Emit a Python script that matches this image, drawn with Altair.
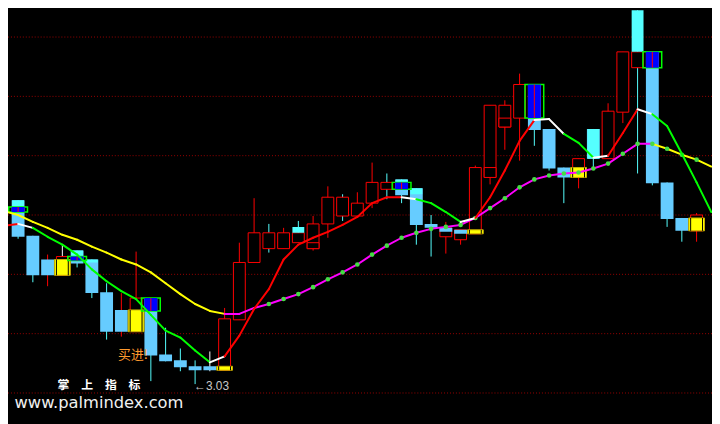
import altair as alt
import pandas as pd

# ---------------- data ----------------
idx = list(range(47))
open_ = [3.96, 3.78, 3.66, 3.58, 3.705, 3.66, 3.495, 3.405, 3.295, 3.465,
         3.18, 3.15, 3.12, 3.12, 3.10, 3.355, 3.645, 3.715, 3.715, 3.745,
         3.715, 3.84, 3.88, 3.88, 3.945, 4.015, 4.065, 4.02, 3.84, 3.775,
         3.76, 3.79, 4.075, 4.33, 4.375, 4.545, 4.32, 4.125, 4.075, 4.32,
         4.17, 4.405, 4.63, 4.71, 4.05, 3.87, 3.805]
close = [3.775, 3.58, 3.58, 3.675, 3.64, 3.49, 3.295, 3.295, 3.465, 3.175,
         3.145, 3.115, 3.10, 3.10, 3.36, 3.645, 3.795, 3.795, 3.795, 3.795,
         3.84, 3.975, 3.975, 3.945, 4.05, 4.05, 3.985, 3.835, 3.82, 3.82,
         3.81, 4.125, 4.44, 4.44, 4.545, 4.315, 4.12, 4.075, 4.17, 4.17,
         4.41, 4.71, 4.71, 4.045, 3.865, 3.805, 3.885]
high = [3.96, 3.78, 3.685, 3.735, 3.705, 3.66, 3.54, 3.49, 3.70, 3.465,
        3.315, 3.21, 3.15, 3.195, 3.415, 3.745, 3.97, 3.84, 3.82, 3.855,
        3.88, 4.03, 3.99, 4.00, 4.15, 4.095, 4.065, 4.02, 3.885, 3.85,
        3.81, 4.135, 4.44, 4.465, 4.60, 4.545, 4.32, 4.125, 4.17, 4.32,
        4.45, 4.71, 4.935, 4.71, 4.05, 3.87, 3.895]
low = [3.765, 3.545, 3.525, 3.58, 3.62, 3.465, 3.255, 3.27, 3.295, 3.045,
       3.145, 3.095, 3.03, 3.095, 3.10, 3.355, 3.645, 3.695, 3.715, 3.745,
       3.705, 3.77, 3.855, 3.88, 3.92, 3.965, 3.945, 3.735, 3.675, 3.69,
       3.735, 3.79, 4.04, 4.215, 4.16, 4.235, 4.11, 3.945, 4.02, 4.125,
       4.17, 4.35, 4.095, 4.035, 3.825, 3.75, 3.75]
wick_kind = ["c", "c", "r", "w", "c", "c", "c", "r", "r", "c",
             "c", "c", "c", "w", "r", "r", "r", "c", "r", "c",
             "r", "r", "c", "r", "r", "c", "c", "c", "c", "r",
             "r", "r", "r", "r", "r", "c", "c", "c", "r", "c",
             "r", "r", "c", "c", "c", "c", "r"]

cyan_idx = [0, 4, 5, 19, 26, 27, 39, 42]
cyan_top = [3.96, 3.705, 3.66, 3.825, 4.065, 4.02, 4.32, 4.935]
cyan_bot = [3.925, 3.675, 3.645, 3.795, 4.05, 3.99, 4.17, 4.71]

blue_idx = [0, 4, 9, 26, 35, 43]
blue_top = [3.925, 3.675, 3.465, 4.05, 4.545, 4.71]
blue_bot = [3.90, 3.655, 3.40, 4.015, 4.375, 4.63]

lblue_idx = [29, 30]
lblue_top = [3.82, 3.81]
lblue_bot = [3.80, 3.79]

yellow_idx = [3, 8, 14, 31, 38, 46]
yellow_top = [3.66, 3.405, 3.12, 3.81, 4.125, 3.87]
yellow_bot = [3.58, 3.295, 3.10, 3.79, 4.075, 3.805]

sub_idx = [20, 32, 33]
sub_top = [3.745, 4.125, 4.375]
sub_bot = [3.715, 4.075, 4.33]

line_idx = list(range(-1, 48))
fast = [3.83, 3.84, 3.82, 3.775, 3.735, 3.685, 3.61, 3.55, 3.50, 3.46, 3.38,
        3.30, 3.265, 3.20, 3.14, 3.17, 3.275, 3.41, 3.51, 3.66, 3.735,
        3.77, 3.80, 3.835, 3.875, 3.945, 3.975, 3.975, 3.965, 3.945, 3.90,
        3.85, 3.87, 3.975, 4.11, 4.26, 4.365, 4.37, 4.295, 4.25, 4.175,
        4.185, 4.30, 4.42, 4.395, 4.335, 4.195, 4.05, 3.90]
fast_kind = (["up", "flat"] + ["down"] * 12 + ["flat"] + ["up"] * 12 + ["flat"]
             + ["down"] * 3 + ["flat"] + ["up"] * 4 + ["flat"] * 2 + ["down"] * 2
             + ["flat"] + ["up"] * 2 + ["flat"] + ["down"] * 4)
slow = [3.905, 3.885, 3.85, 3.82, 3.785, 3.76, 3.725, 3.695, 3.66, 3.635, 3.595,
        3.54, 3.485, 3.435, 3.40, 3.385, 3.385, 3.415, 3.435, 3.46, 3.485,
        3.52, 3.56, 3.595, 3.635, 3.685, 3.73, 3.77, 3.795, 3.815, 3.825,
        3.835, 3.87, 3.92, 3.97, 4.025, 4.065, 4.085, 4.095, 4.10, 4.12,
        4.145, 4.195, 4.245, 4.245, 4.22, 4.19, 4.165, 4.13]
slow_kind = ["fall"] * 15 + ["rise"] * 29 + ["fall"] * 4
dot_idx = list(range(17, 47))

grid_levels = [4.785, 4.485, 4.185, 3.885, 3.585, 3.285, 2.985]

# ---------------- styles ----------------
WICK_COL = {"r": "#FF0000", "c": "#55FFFF", "w": "#FFFFFF"}
FAST_COL = {"up": "#FF0000", "flat": "#FFFFFF", "down": "#00FF00"}
SLOW_COL = {"fall": "#FFFF00", "rise": "#FF00FF"}

xs = alt.Scale(domain=[-0.35, 46.71], nice=False, zero=False)
ys = alt.Scale(domain=[2.84, 4.92], nice=False, zero=False)


def X(f="i"):
    return alt.X(f"{f}:Q", scale=xs, axis=None)


def Y(f):
    return alt.Y(f"{f}:Q", scale=ys, axis=None)


cdf = pd.DataFrame({"i": idx, "o": open_, "c": close, "h": high, "l": low,
                    "wc": [WICK_COL[k] for k in wick_kind]})
cdf["up"] = cdf["c"] >= cdf["o"]


def boxes(ix, top, bot):
    return pd.DataFrame({"i": ix, "t": top, "b": bot})


fast_seg = pd.DataFrame({
    "i": line_idx[:-1], "i2": line_idx[1:], "v": fast[:-1], "v2": fast[1:],
    "col": [FAST_COL[k] for k in fast_kind]})
slow_seg = pd.DataFrame({
    "i": line_idx[:-1], "i2": line_idx[1:], "v": slow[:-1], "v2": slow[1:],
    "col": [SLOW_COL[k] for k in slow_kind]})
dots = pd.DataFrame({"i": dot_idx, "v": [slow[line_idx.index(k)] for k in dot_idx]})

# ---------------- layers ----------------
grid = alt.Chart(pd.DataFrame({"p": grid_levels})).mark_rule(
    color="#9A0000", strokeDash=[1, 2], strokeWidth=1).encode(y=Y("p"))

wicks = alt.Chart(cdf).mark_rule(strokeWidth=1, clip=True).encode(
    x=X(), y=Y("h"), y2="l:Q", color=alt.Color("wc:N", scale=None))

down_body = alt.Chart(cdf[~cdf["up"]]).mark_bar(
    size=13, color="#66CCFF", clip=True).encode(x=X(), y=Y("o"), y2="c:Q")

up_body = alt.Chart(cdf[cdf["up"]]).mark_bar(
    size=12, fill="#000000", stroke="#FF0000", strokeWidth=1, clip=True).encode(
    x=X(), y=Y("o"), y2="c:Q")

sub_box = alt.Chart(boxes(sub_idx, sub_top, sub_bot)).mark_bar(
    size=12, fill="#000000", stroke="#FF0000", strokeWidth=1, clip=True).encode(
    x=X(), y=Y("t"), y2="b:Q")

lblue = alt.Chart(boxes(lblue_idx, lblue_top, lblue_bot)).mark_bar(
    size=13, color="#66CCFF", clip=True).encode(x=X(), y=Y("t"), y2="b:Q")

cyan = alt.Chart(boxes(cyan_idx, cyan_top, cyan_bot)).mark_bar(
    size=12, color="#55FFFF", clip=True).encode(x=X(), y=Y("t"), y2="b:Q")

ydf = boxes(yellow_idx, yellow_top, yellow_bot)
yellow = alt.Chart(ydf).mark_bar(
    size=16, fill="#FFFF00", stroke="#C8B000", strokeWidth=1, clip=True).encode(
    x=X(), y=Y("t"), y2="b:Q")
ydark_l = alt.Chart(ydf).mark_rule(color="#000000", strokeWidth=1, xOffset=-6).encode(
    x=X(), y=Y("t"), y2="b:Q")
ydark_r = alt.Chart(ydf).mark_rule(color="#000000", strokeWidth=1, xOffset=6).encode(
    x=X(), y=Y("t"), y2="b:Q")

bdf = boxes(blue_idx, blue_top, blue_bot)
green_out = alt.Chart(bdf).mark_bar(
    size=19, fill="#000000", fillOpacity=0, stroke="#00FF00", strokeWidth=1.5,
    clip=True).encode(x=X(), y=Y("t"), y2="b:Q")
blue = alt.Chart(bdf).mark_bar(size=13, color="#0000FF", clip=True).encode(
    x=X(), y=Y("t"), y2="b:Q")
blue_line = alt.Chart(bdf).mark_rule(color="#FF0000", strokeWidth=1).encode(
    x=X(), y=Y("t"), y2="b:Q")

slow_line = alt.Chart(slow_seg).mark_rule(strokeWidth=2, strokeCap="round", clip=True).encode(
    x=X(), x2="i2:Q", y=Y("v"), y2="v2:Q", color=alt.Color("col:N", scale=None))
dot_layer = alt.Chart(dots).mark_circle(size=22, color="#44DD44", opacity=1).encode(
    x=X(), y=Y("v"))
fast_line = alt.Chart(fast_seg).mark_rule(strokeWidth=2, strokeCap="round", clip=True).encode(
    x=X(), x2="i2:Q", y=Y("v"), y2="v2:Q", color=alt.Color("col:N", scale=None))

buy_txt = alt.Chart(pd.DataFrame({"i": [9], "p": [3.175], "t": ["买进!"]})).mark_text(
    align="right", baseline="middle", dx=-3, fontSize=13, color="#FF9A2E",
    font="Noto Sans CJK SC").encode(x=X(), y=Y("p"), text="t:N")
low_txt = alt.Chart(pd.DataFrame({"i": [12], "p": [3.03], "t": ["←3.03"]})).mark_text(
    align="left", baseline="middle", dx=-1, dy=2, fontSize=12, color="#C8C8C8",
    font="Liberation Sans").encode(x=X(), y=Y("p"), text="t:N")

wm1 = alt.Chart(pd.DataFrame({"t": ["掌　上　指　标"]})).mark_text(
    align="center", baseline="middle", fontSize=12, fontWeight="bold",
    color="#FFFFFF", font="Noto Sans CJK SC").encode(
    x=alt.value(92), y=alt.value(379), text="t:N")
wm2 = alt.Chart(pd.DataFrame({"t": ["www.palmindex.com"]})).mark_text(
    align="center", baseline="alphabetic", fontSize=16.5, color="#F0F0F0",
    font="DejaVu Sans").encode(x=alt.value(92), y=alt.value(402), text="t:N")

chart = alt.layer(
    grid, wicks, down_body, up_body, sub_box, lblue, cyan,
    yellow, ydark_l, ydark_r, green_out, blue, blue_line,
    slow_line, dot_layer, fast_line, buy_txt, low_txt, wm1, wm2
).properties(
    width=712, height=416, background="#000000", padding=0,
    autosize=alt.AutoSizeParams(type="none")
).configure_view(stroke=None)

chart.save("out.html", embed_options={"renderer": "svg", "actions": False})
